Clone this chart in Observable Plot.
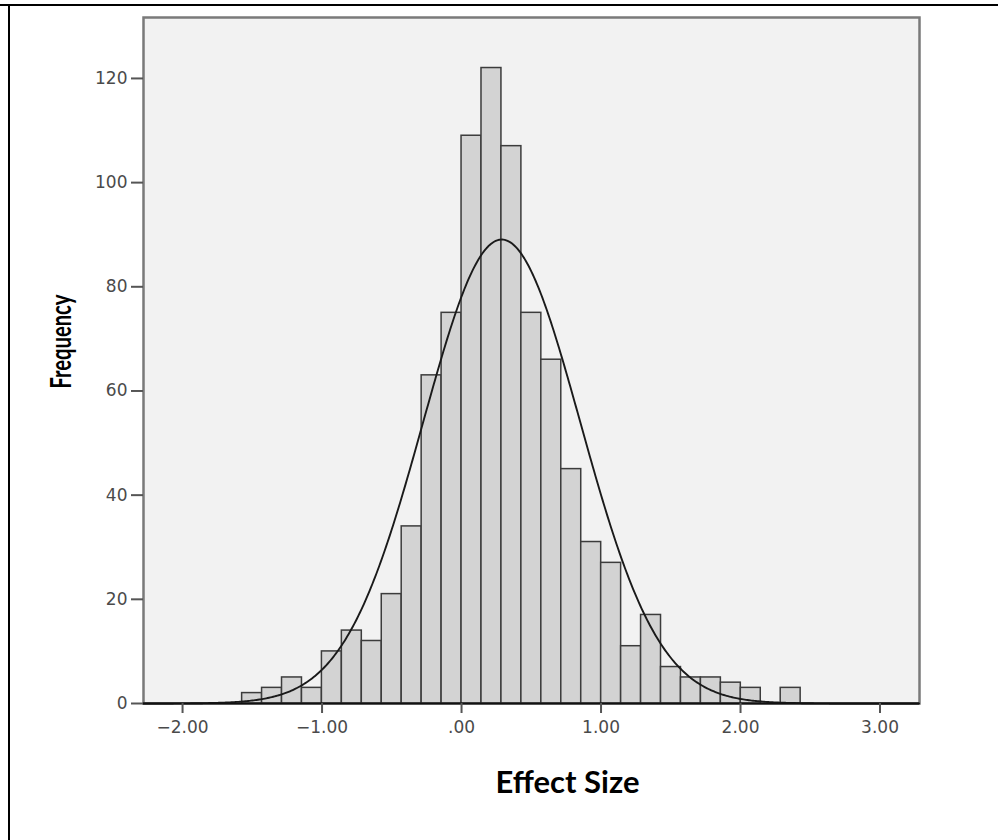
<!DOCTYPE html>
<html>
<head>
<meta charset="utf-8">
<script src="https://cdn.jsdelivr.net/npm/d3@7"></script>
<script src="https://cdn.jsdelivr.net/npm/@observablehq/plot@0.6"></script>
<style>
  html, body { margin: 0; padding: 0; background: #ffffff; }
  #wrap { position: relative; width: 998px; height: 840px; overflow: hidden; }
  #box { position: absolute; left: 8px; top: 4px; width: 1100px; height: 1000px;
         border-left: 2px solid #000; border-top: 2px solid #000; }
  #tick { position: absolute; left: 0; top: 4px; width: 10px; height: 2px; background: #000; }
  #chart { position: absolute; left: 0; top: 0; }
</style>
</head>
<body>
<div id="wrap">
  <div id="box"></div>
  <div id="tick"></div>
  <div id="chart"></div>
</div>
<script>
// Histogram counts (left to right)
const counts = [2, 3, 5, 3, 10, 14, 12, 21, 34, 63, 75, 109, 122, 107, 75, 66, 45, 31, 27, 11, 17, 7, 5, 5, 4, 3, 0, 3];
const binStart = -1.573;   // left edge of the first bin
const binWidth = 0.143;    // bin width
// Normal curve parameters (fitted curve drawn by the source software)
const curveMean = 0.288;
const curveSD = 0.563;
// Axes
const xTicks = [-2, -1, 0, 1, 2, 3];
const xTickLabels = ["\u22122.00", "\u22121.00", ".00", "1.00", "2.00", "3.00"];
const yTicks = [0, 20, 40, 60, 80, 100, 120];
const xLabel = "Effect Size";
const yLabel = "Frequency";

const xDomain = [-2.28, 3.283];
const yDomain = [0, 131.7];

const bins = counts.map((c, i) => ({
  x1: binStart + i * binWidth,
  x2: binStart + (i + 1) * binWidth,
  count: c
})).filter(d => d.count > 0);

const n = d3.sum(counts);
const curve = d3.range(xDomain[0], xDomain[1] + 0.005, 0.01).map(x => ({
  x,
  y: n * binWidth / (curveSD * Math.sqrt(2 * Math.PI)) * Math.exp(-((x - curveMean) ** 2) / (2 * curveSD ** 2))
}));

const tickFont = "DejaVu Sans";
const titleFont = "Lato, sans-serif";

const chart = Plot.plot({
  width: 998,
  height: 840,
  marginLeft: 143,
  marginRight: 79,
  marginTop: 17,
  marginBottom: 137,
  style: { background: "transparent", fontFamily: tickFont },
  x: { domain: xDomain },
  y: { domain: yDomain },
  marks: [
    Plot.frame({ fill: "#f2f2f2", stroke: "#7a7a7a", strokeWidth: 2.5 }),
    Plot.rect(bins, { x1: "x1", x2: "x2", y1: 0, y2: "count", fill: "#d3d3d3", stroke: "#3c3c3c", strokeWidth: 1.5 }),
    Plot.line(curve, { x: "x", y: "y", stroke: "#1a1a1a", strokeWidth: 1.9 }),
    Plot.ruleY([0], { stroke: "#111", strokeWidth: 2 }),
    Plot.axisY({
      ticks: yTicks, tickSize: 12, tickPadding: 4, label: null,
      tickFormat: d => String(d),
      fontSize: 17, fontFamily: tickFont, fill: "#4a4a4a", stroke: "#555", strokeWidth: 2
    }),
    Plot.axisX({
      ticks: xTicks, tickSize: 10, tickPadding: 7, label: null,
      tickFormat: d => xTickLabels[xTicks.indexOf(d)],
      fontSize: 17, fontFamily: tickFont, fill: "#4a4a4a", stroke: "#555", strokeWidth: 2
    }),
    Plot.text([yLabel], {
      frameAnchor: "left", rotate: -90, dx: -81, dy: 28, lineAnchor: "middle",
      fontSize: 28, fontWeight: "bold", fontFamily: titleFont, fill: "#000"
    }),
    Plot.text([xLabel], {
      frameAnchor: "bottom", dx: 36, dy: 80, lineAnchor: "middle",
      fontSize: 31, fontWeight: "bold", fontFamily: titleFont, fill: "#000"
    })
  ]
});
// condense the vertical axis title like the original's narrow bold face
chart.querySelectorAll("text").forEach(t => {
  if (t.textContent === yLabel) {
    t.setAttribute("textLength", "94");
    t.setAttribute("lengthAdjust", "spacingAndGlyphs");
  }
});
document.getElementById("chart").appendChild(chart);
</script>
</body>
</html>
